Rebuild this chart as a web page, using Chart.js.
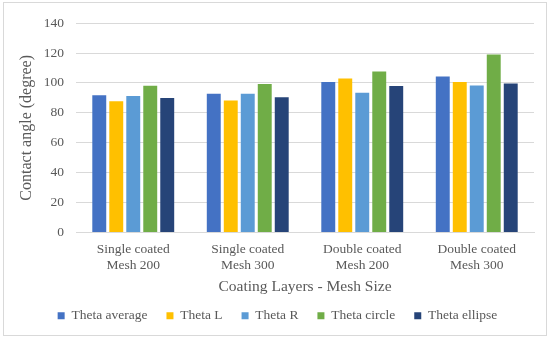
<!DOCTYPE html>
<html>
<head>
<meta charset="utf-8">
<script src="https://cdn.jsdelivr.net/npm/chart.js@4"></script>
<style>
  html, body { margin: 0; padding: 0; background: #fff; }
  #wrap { position: absolute; left: 3px; top: 2px; width: 544px; height: 334px; border: 1px solid #d9d9d9; box-sizing: border-box; }
  canvas { display: block; }
</style>
</head>
<body>
<div id="wrap"><canvas id="c"></canvas></div>
<script>
// Kąt zwilżania dla kolejnych wariantów powłok
const categories = [
    ["Single coated", "Mesh 200"],
    ["Single coated", "Mesh 300"],
    ["Double coated", "Mesh 200"],
    ["Double coated", "Mesh 300"],
];
const seriesNames = ["Theta average", "Theta L", "Theta R", "Theta circle", "Theta ellipse"];
const thetaAverage = [91.7, 92.7, 100.6, 104.3];
const thetaL = [87.7, 88.3, 102.9, 100.6];
const thetaR = [91.3, 92.7, 93.4, 98.3];
const thetaCircle = [98.1, 99.3, 107.7, 119.0];
const thetaEllipse = [89.9, 90.5, 98.0, 99.7];
const yTicks = [0, 20, 40, 60, 80, 100, 120, 140];

const colors = ["#4472C4", "#FFC000", "#5B9BD5", "#70AD47", "#264478"];
const values = [thetaAverage, thetaL, thetaR, thetaCircle, thetaEllipse];

const font = "'Liberation Serif', 'Times New Roman', serif";
const textColor = "#595959";

new Chart(document.getElementById("c"), {
    type: "bar",
    data: {
        labels: categories,
        datasets: seriesNames.map((name, i) => ({
            label: name,
            data: values[i],
            backgroundColor: colors[i],
            borderWidth: 0,
            barPercentage: 0.82,
            categoryPercentage: 0.742,
        })),
    },
    options: {
        responsive: true,
        maintainAspectRatio: false,
        animation: false,
        layout: { padding: { left: 17, right: 12, top: 18, bottom: 2.5 } },
        plugins: {
            legend: {
                position: "bottom",
                labels: {
                    color: textColor,
                    font: { family: font, size: 13.5 },
                    boxWidth: 7,
                    boxHeight: 7,
                    padding: 19,
                },
            },
            tooltip: { enabled: false },
        },
        scales: {
            x: {
                afterFit: (axis) => {
                    axis.height = 57.5;
                },
                grid: { display: false, drawTicks: false },
                border: { color: "#d9d9d9" },
                ticks: {
                    color: textColor,
                    font: { family: font, size: 13.5 },
                    padding: 9,
                    maxRotation: 0,
                },
                title: {
                    display: true,
                    text: "Coating Layers - Mesh Size",
                    color: textColor,
                    font: { family: font, size: 15.5 },
                    padding: { top: 2, bottom: -6 },
                },
            },
            y: {
                min: 0,
                max: 140,
                afterBuildTicks: (axis) => {
                    axis.ticks = yTicks.map((v) => ({ value: v }));
                },
                afterFit: (axis) => {
                    axis.width = 55;
                },
                grid: { color: "#d9d9d9", drawTicks: false },
                border: { display: false },
                ticks: {
                    color: textColor,
                    font: { family: font, size: 13.5 },
                    padding: 12,
                },
                title: {
                    display: true,
                    text: "Contact angle (degree)",
                    color: textColor,
                    font: { family: font, size: 16 },
                    padding: { top: -3.5, bottom: 4 },
                },
            },
        },
    },
});
</script>
</body>
</html>
